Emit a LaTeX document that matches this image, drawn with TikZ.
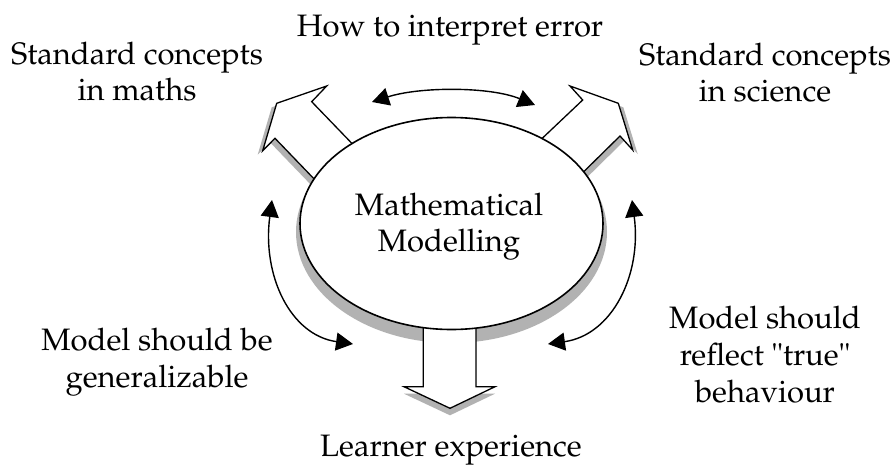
\documentclass[tikz,border=0pt]{standalone}
\usepackage[T1]{fontenc}
\usepackage{mathpazo}
\usetikzlibrary{arrows.meta,shapes.geometric}
\definecolor{shadowc}{RGB}{178,178,178}
\begin{document}
\begin{tikzpicture}[x=1pt,y=-1pt,
  lbl/.style={anchor=base,inner sep=0pt,font=\fontsize{31}{37}\selectfont},
  blockarrow/.style={draw=black,fill=white,line width=1.3pt,line join=miter},
  shadowfill/.style={fill=shadowc,draw=none},
  curvearrow/.style={line width=1.4pt,{Triangle[length=17pt,width=18pt]}-{Triangle[length=17pt,width=18pt]}}]
\useasboundingbox (0,0) rectangle (895,466);
\fill[white] (0,0) rectangle (895,466);

% shadow of the ellipse
\node[ellipse,shadowfill,minimum width=311pt,minimum height=222pt,inner sep=0pt] (mmshadow) at (451.5,232) {};

% shadows of the block arrows
\fill[shadowc,shift={(-5,4)}] (276.7,103.3) -- (326.7,86) -- (311.7,101.7) -- (381.7,174.3) -- (343.3,209.3) -- (275,138.3) -- (262.7,150.7) -- cycle;
\fill[shadowc,shift={(5,4)}] (618.3,103.3) -- (570,86) -- (582.7,100) -- (513.3,165.7) -- (555,200) -- (620,136) -- (632.7,150) -- cycle;
\fill[shadowc,shift={(0,7)}] (423.3,310) -- (423.3,386.7) -- (404,386.7) -- (450,408.3) -- (495,386.7) -- (476,386.7) -- (476,310) -- cycle;

% block arrows
\path[blockarrow] (276.7,103.3) -- (326.7,86) -- (311.7,101.7) -- (381.7,174.3) -- (343.3,209.3) -- (275,138.3) -- (262.7,150.7) -- cycle;
\path[blockarrow] (618.3,103.3) -- (570,86) -- (582.7,100) -- (513.3,165.7) -- (555,200) -- (620,136) -- (632.7,150) -- cycle;
\path[blockarrow] (423.3,310) -- (423.3,386.7) -- (404,386.7) -- (450,408.3) -- (495,386.7) -- (476,386.7) -- (476,310) -- cycle;

% the ellipse
\node[ellipse,draw,fill=white,line width=1.6pt,minimum width=303pt,minimum height=212pt,inner sep=0pt] (mm) at (451.5,223.5) {};

% text in the ellipse
\node[lbl] (mathA) at (449,215) {Mathematical};
\node[lbl] (mathB) at (449,251.7) {Modelling};

% curved double arrows
\coordinate (topL) at (372,102);
\coordinate (topR) at (535,105);
\draw[curvearrow] (topL) .. controls (420,86.5) and (490,86.5) .. (topR);
\coordinate (lfTop) at (272,200);
\coordinate (lfBot) at (353,344);
\draw[curvearrow] (lfTop) .. controls (262,275) and (290,335) .. (lfBot);
\coordinate (rtTop) at (632,200);
\coordinate (rtBot) at (548,344);
\draw[curvearrow] (rtTop) .. controls (642,275) and (612,335) .. (rtBot);

% labels
\node[lbl] (howto) at (450,36.7) {How to interpret error};
\node[lbl] (mathsA) at (137,64) {Standard concepts};
\node[lbl] (mathsB) at (137,100) {in maths};
\node[lbl] (sciA) at (765,65) {Standard concepts};
\node[lbl] (sciB) at (765,101) {in science};
\node[lbl] (genA) at (157,350) {Model should be};
\node[lbl] (genB) at (157,387) {generalizable};
\node[lbl] (trueA) at (765,328) {Model should};
\node[lbl] (trueB) at (765,365) {reflect "true"};
\node[lbl] (trueC) at (765,402) {behaviour};
\node[lbl] (learner) at (451,456.5) {Learner experience};
\end{tikzpicture}
\end{document}
